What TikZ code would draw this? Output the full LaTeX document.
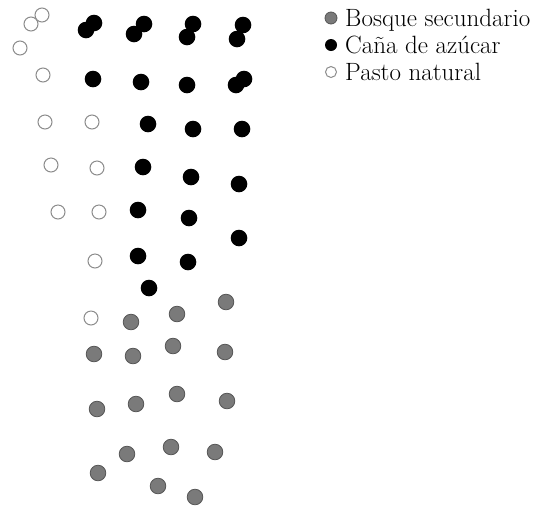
\documentclass[tikz,border=0pt]{standalone}
\definecolor{dotgray}{RGB}{122,122,122}
\definecolor{dotedge}{RGB}{85,85,85}
\definecolor{openedge}{RGB}{140,140,140}
\tikzset{
  blackdot/.style={fill=black},
  graydot/.style={fill=dotgray, draw=dotedge, line width=0.8pt},
  opendot/.style={draw=openedge, line width=1pt, fill=white},
  legtext/.style={anchor=base west, inner sep=0pt, font=\fontsize{25}{29}\selectfont}
}
\begin{document}
\begin{tikzpicture}[x=1pt,y=-1pt]
\useasboundingbox (0,0) rectangle (534,507);
% open circles (Pasto natural)
\foreach \x/\y in {31/24,42/15,20/48,43/75,45/122,92/122,51/165,97/168,58/212,99/212,95/261,91/318}
  \path[opendot] (\x,\y) circle[radius=7];
% black dots (Caña de azúcar)
\foreach \x/\y in {94/23,86/30,144/24,134/34,193/24,187/37,243/25,237/39,
  93/79,141/82,187/85,244/79,236/85,148/124,193/129,242/129,
  143/167,191/177,239/184,138/210,189/218,239/238,138/256,188/262,149/288}
  \path[blackdot] (\x,\y) circle[radius=8.3];
% gray dots (Bosque secundario)
\foreach \x/\y in {226/302,131/322,177/314,94/354,133/356,173/346,225/352,
  97/409,136/404,177/394,227/401,127/454,171/447,215/452,98/473,158/486,195/497}
  \path[graydot] (\x,\y) circle[radius=7.8];
% legend
\path[graydot] (331,18) circle[radius=6];
\node[legtext] (l1) at (345,26) {Bosque secundario};
\path[blackdot] (331,45) circle[radius=6];
\node[legtext] (l2) at (345,53) {Caña de azúcar};
\path[opendot] (331,72) circle[radius=5.5];
\node[legtext] (l3) at (345,80) {Pasto natural};
\end{tikzpicture}
\end{document}
